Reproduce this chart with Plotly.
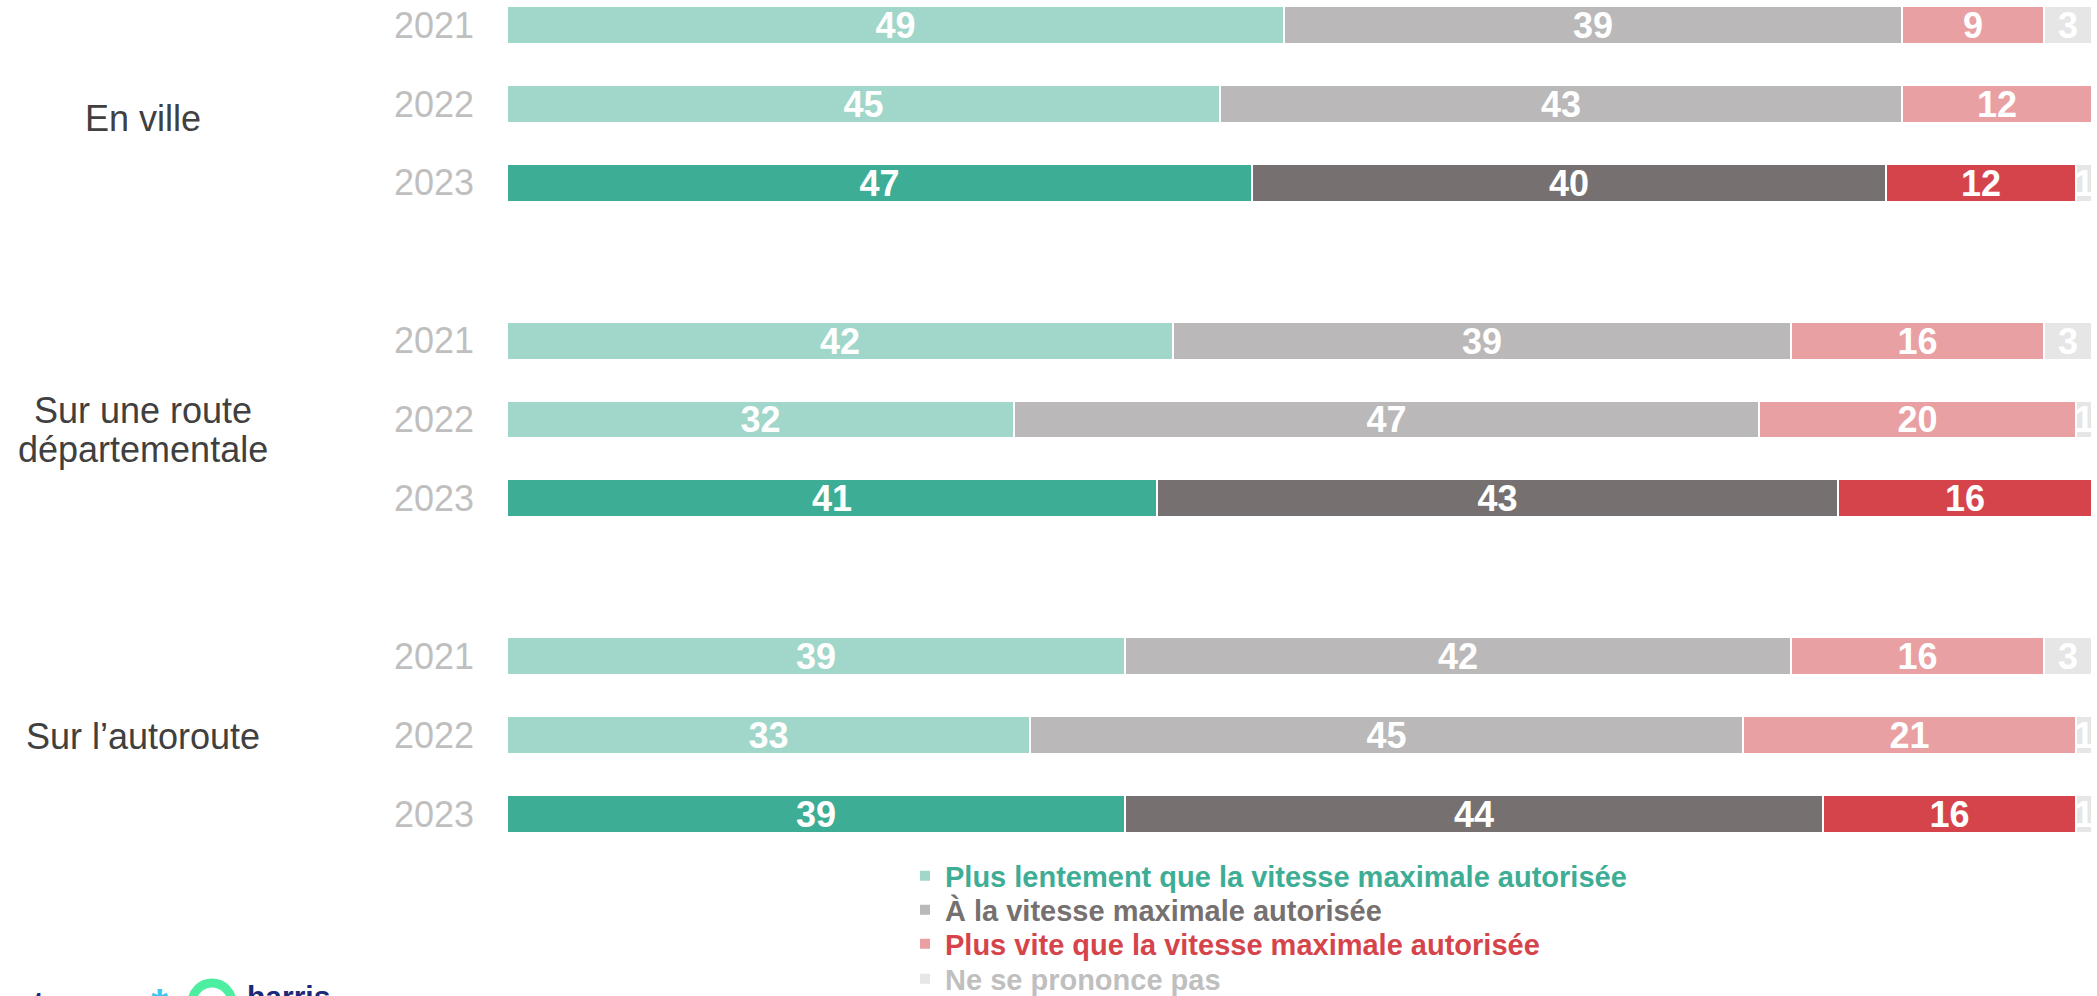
import plotly.graph_objects as go

# ---------------- data ----------------
groups = ["En ville", "Sur une route départementale", "Sur l’autoroute"]
years = ["2021", "2022", "2023"]

series_names = [
    "Plus lentement que la vitesse maximale autorisée",
    "À la vitesse maximale autorisée",
    "Plus vite que la vitesse maximale autorisée",
    "Ne se prononce pas",
]
# values, row order: group x year (2021, 2022, 2023)
plus_lentement = [49, 45, 47, 42, 32, 41, 39, 33, 39]
a_la_vitesse = [39, 43, 40, 39, 47, 43, 42, 45, 44]
plus_vite = [9, 12, 12, 16, 20, 16, 16, 21, 16]
ne_se_prononce = [3, 0, 1, 3, 1, 0, 3, 1, 1]

# ---------------- styles ----------------
light_cols = ["#A0D7CA", "#BAB8B8", "#E9A0A2", "#E6E6E6"]
dark_cols = ["#3DAE95", "#767170", "#D6444B", "#E6E6E6"]
legend_text_cols = ["#3DAE95", "#767170", "#D6444B", "#BFBFBF"]
FONT = "Liberation Sans, Arial, sans-serif"

W, H = 2097, 996
plot_left, plot_right = 507, 2092
plot_top, plot_bottom = 0, 850
row0_px, slot_px = 25, 78.9
legend_rows_px = [876, 910, 944, 979]

# slot positions: 3 rows per group, one empty slot between groups
slots = [g * 4 + y for g in range(len(groups)) for y in range(len(years))]
year_labels = [yr for g in groups for yr in years]
is_latest = [yr == years[-1] for g in groups for yr in years]


def px_to_paper_x(px):
    return (px - plot_left) / (plot_right - plot_left)


def px_to_paper_y(py):
    return (plot_bottom - py) / (plot_bottom - plot_top)


def px_to_slot(py):
    return (py - row0_px) / slot_px


fig = go.Figure()
all_series = [plus_lentement, a_la_vitesse, plus_vite, ne_se_prononce]
legend_ids = ["legend", "legend2", "legend3", "legend4"]
for i, (name, vals) in enumerate(zip(series_names, all_series)):
    colors = [dark_cols[i] if latest else light_cols[i] for latest in is_latest]
    texts = [f"<b>{v}</b>" if v else "" for v in vals]
    fig.add_trace(go.Bar(
        x=vals,
        y=slots,
        orientation="h",
        width=0.48,
        name=f"<b><span style='color:{legend_text_cols[i]}'>{name}</span></b>",
        legend=legend_ids[i],
        marker=dict(color=colors, line=dict(color="white", width=2)),
        text=texts,
        textposition="inside",
        insidetextanchor="middle",
        textangle=0,
        constraintext="none",
        textfont=dict(family=FONT, size=36, color="white"),
        hoverinfo="skip",
        cliponaxis=True,
    ))

y_top = px_to_slot(plot_top)
y_bot = px_to_slot(plot_bottom)

annotations = []
# group labels
label_lines = [
    ("En ville", 118),
    ("Sur une route", 410),
    ("départementale", 449),
    ("Sur l’autoroute", 736),
]
for txt, py in label_lines:
    annotations.append(dict(
        text=txt, x=px_to_paper_x(143), xref="paper", xanchor="center",
        y=px_to_slot(py), yref="y", yanchor="middle",
        showarrow=False, font=dict(family=FONT, size=36, color="#404040"),
    ))
# partial logo at bottom-left (mostly cut off by the page edge)
annotations.append(dict(
    text="<b>harris</b>", x=px_to_paper_x(245), xref="paper", xanchor="left",
    y=px_to_paper_y(978), yref="paper", yanchor="top",
    showarrow=False, font=dict(family=FONT, size=30, color="#1B2A78"),
))
annotations.append(dict(
    text="<b>*</b>", x=px_to_paper_x(160), xref="paper", xanchor="center",
    y=px_to_paper_y(978), yref="paper", yanchor="top",
    showarrow=False, font=dict(family=FONT, size=44, color="#3EC8F0"),
))
annotations.append(dict(
    text="<b>t</b>", x=px_to_paper_x(38), xref="paper", xanchor="center",
    y=px_to_paper_y(982), yref="paper", yanchor="top",
    showarrow=False, font=dict(family=FONT, size=34, color="#1B2A78"),
))

shapes = [dict(
    type="circle", xref="paper", yref="paper",
    x0=px_to_paper_x(192), x1=px_to_paper_x(232),
    y0=px_to_paper_y(1023), y1=px_to_paper_y(983),
    line=dict(color="#4CEFA0", width=9), fillcolor="rgba(0,0,0,0)",
)]

legend_common = dict(
    orientation="v",
    x=px_to_paper_x(905), xanchor="left",
    yanchor="middle",
    font=dict(family=FONT, size=29),
    itemwidth=30,
    bgcolor="rgba(0,0,0,0)",
)
legends = {}
for lid, py in zip(legend_ids, legend_rows_px):
    legends[lid] = dict(legend_common, y=px_to_paper_y(py))

fig.update_layout(
    width=W, height=H,
    margin=dict(l=plot_left, r=W - plot_right, t=plot_top, b=H - plot_bottom,
                pad=0, autoexpand=False),
    paper_bgcolor="white", plot_bgcolor="white",
    barmode="stack",
    bargap=0,
    showlegend=True,
    uniformtext=dict(minsize=36, mode="show"),
    xaxis=dict(range=[0, 100], visible=False, fixedrange=True),
    yaxis=dict(
        range=[y_bot, y_top],
        tickvals=slots, ticktext=year_labels,
        tickfont=dict(family=FONT, size=36, color="#BFBFBF"),
        showgrid=False, zeroline=False, showline=False,
        ticks="", ticklabelstandoff=32, fixedrange=True,
    ),
    annotations=annotations,
    shapes=shapes,
    font=dict(family=FONT),
    **legends,
)

fig.write_html(
    "out.html",
    config={"displayModeBar": False},
    post_script="document.body.style.margin='0';document.body.style.overflow='hidden';",
)
